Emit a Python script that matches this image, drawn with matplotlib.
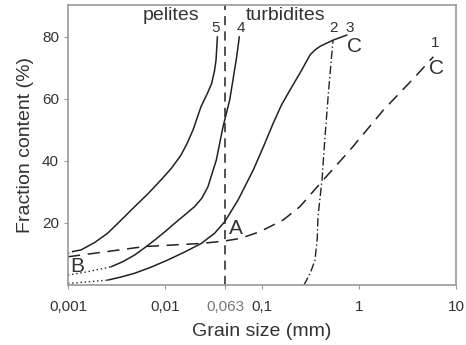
import matplotlib
matplotlib.use("Agg")
import matplotlib.pyplot as plt
import numpy as np

plt.rcParams['font.family'] = ['Liberation Sans', 'DejaVu Sans']

# log10 grain size (mm) and fraction content (%)
c5_logx = [-3.0, -2.95, -2.866, -2.72, -2.588, -2.45, -2.312, -2.17, -2.041, -1.935, -1.835, -1.77, -1.711, -1.629, -1.56, -1.519, -1.49, -1.474, -1.46]
c5_y    = [10.2, 10.8, 11.3, 13.8, 16.8, 21.0, 25.3, 29.6, 33.9, 37.6, 41.9, 45.8, 50.0, 57.5, 62.0, 65.0, 69.0, 72.5, 80.0]
c5_split = 1

c4_logx = [-3.0, -2.794, -2.554, -2.43, -2.312, -2.21, -2.106, -2.0, -1.9, -1.80, -1.694, -1.62, -1.557, -1.471, -1.402, -1.333, -1.30, -1.261, -1.234]
c4_y    = [3.2, 4.3, 5.9, 7.6, 9.7, 12.0, 14.5, 17.2, 19.9, 22.5, 25.3, 28.0, 31.7, 40.3, 51.0, 59.7, 66.0, 73.6, 80.0]
c4_split = 2

c3_logx = [-3.0, -2.8, -2.588, -2.45, -2.312, -2.14, -1.969, -1.80, -1.626, -1.488, -1.385, -1.247, -1.09, -0.98, -0.884, -0.80, -0.711, -0.60, -0.505, -0.45, -0.40, -0.265, -0.127]
c3_y    = [0.5, 1.0, 1.6, 2.6, 3.8, 5.8, 8.1, 10.6, 13.4, 16.7, 20.4, 27.4, 37.1, 45.0, 52.2, 58.0, 62.9, 68.8, 74.2, 75.9, 77.0, 79.0, 80.6]
c3_split = 2

c2_logx = [-0.567, -0.50, -0.454, -0.43, -0.423, -0.381, -0.35, -0.316, -0.268]
c2_y    = [0.0, 4.0, 8.0, 15.0, 22.0, 34.0, 48.0, 61.7, 79.0]

c1_logx = [-3.0, -2.21, -1.626, -1.385, -1.227, -1.021, -0.78, -0.608, -0.385, -0.093, 0.251, 0.595, 0.766]
c1_y    = [9.1, 12.4, 13.4, 14.2, 15.0, 17.2, 21.0, 25.3, 33.3, 43.5, 56.4, 67.7, 73.6]

boundary_x = 0.042  # pelites / turbidites boundary (labelled 0,063)

xticks = [0.001, 0.01, boundary_x, 0.1, 1, 10]
xticklabels = ['0,001', '0,01', '0,063', '0,1', '1', '10']
yticks = [20, 40, 60, 80]

fig = plt.figure(figsize=(4.66, 3.45), dpi=100)
ax = fig.add_axes([68/466, 1-285/345, (456-68)/466, (285-5)/345])

lc = '#222222'
def X(a):
    return 10 ** np.array(a)

for lx, yy, s in [(c5_logx, c5_y, c5_split), (c4_logx, c4_y, c4_split), (c3_logx, c3_y, c3_split)]:
    ax.plot(X(lx[:s+1]), yy[:s+1], color=lc, lw=1.0, linestyle=(0, (1, 2)))
    ax.plot(X(lx[s:]), yy[s:], color=lc, lw=1.1, solid_joinstyle='round')

ax.plot(X(c2_logx), c2_y, color=lc, lw=1.0, linestyle=(0, (6, 2, 1, 2)))
ax.plot(X(c1_logx), c1_y, color=lc, lw=1.1, linestyle=(0, (8, 5)))
ax.axvline(boundary_x, color=lc, lw=1.1, linestyle=(0, (6, 4)))

ax.set_xscale('log')
ax.set_xlim(0.001, 10)
ax.set_ylim(0, 90.3)
ax.set_xticks(xticks)
ax.set_xticklabels(xticklabels)
ax.minorticks_off()
ax.set_yticks(yticks)
ax.tick_params(labelsize=11, colors='#333333', length=3, color='#999999')
ax.tick_params(axis='x', pad=8)
ax.get_xticklabels()[2].set_color('#777777')
for sp in ax.spines.values():
    sp.set_color('#999999')
    sp.set_linewidth(1.2)

ax.set_xlabel('Grain size (mm)', fontsize=14, color='#333333', labelpad=6)
ax.set_ylabel('Fraction content (%)', fontsize=14, color='#333333', labelpad=6)

tc = '#333333'
def lab(px, py, s, fs=11, ha='center'):
    fig.text(px/466, 1-py/345, s, fontsize=fs, color=tc, ha=ha, va='center')

lab(171, 16, 'pelites', 14)
lab(286, 16, 'turbidites', 14)
lab(216, 28, '5', 11)
lab(241, 28, '4', 11)
lab(334, 28, '2', 11)
lab(350, 28, '3', 11)
lab(355, 47, 'C', 15)
lab(435, 43, '1', 11)
lab(436, 69, 'C', 15)
lab(236, 228, 'A', 15)
lab(77, 266, 'B', 15)

fig.savefig('out.png', dpi=100)
